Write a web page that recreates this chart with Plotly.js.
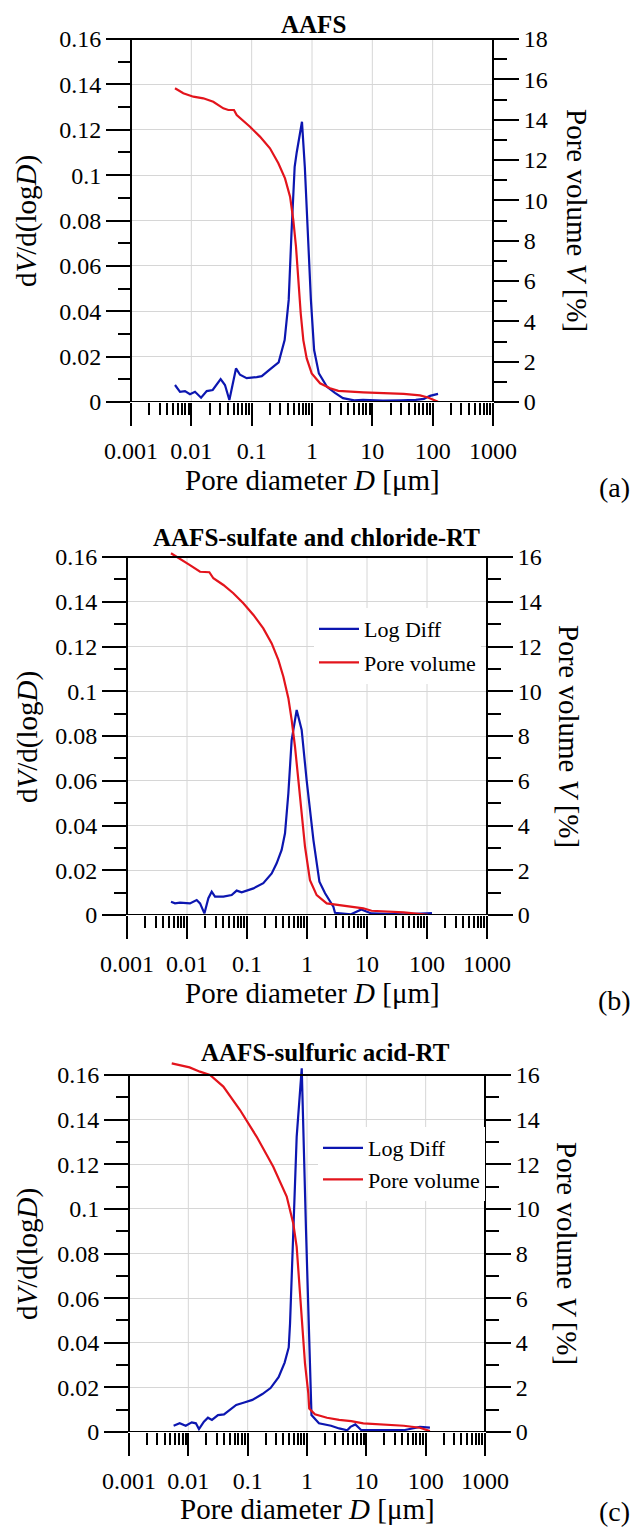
<!DOCTYPE html>
<html><head><meta charset="utf-8">
<script src="https://cdn.plot.ly/plotly-3.0.1.min.js"></script>
<style>html,body{margin:0;padding:0;background:#fff}#chart{width:633px;height:1529px}</style>
</head><body><div id="chart"></div>
<script>
// ---------- data ----------
const panelTitles = ['AAFS', 'AAFS-sulfate and chloride-RT', 'AAFS-sulfuric acid-RT'];
const panelTags = ['(a)', '(b)', '(c)'];
const seriesNames = ['Log Diff', 'Pore volume'];
const xTickVals = [0.001, 0.01, 0.1, 1, 10, 100, 1000];
const xTickText = ['0.001', '0.01', '0.1', '1', '10', '100', '1000'];
const yLeftTickVals = [0, 0.02, 0.04, 0.06, 0.08, 0.1, 0.12, 0.14, 0.16];
const yLeftTickText = ['0', '0.02', '0.04', '0.06', '0.08', '0.1', '0.12', '0.14', '0.16'];
const yRightMax = [18, 16, 16];

// (a) AAFS
const aLogDiffD = [0.00536,0.00649,0.00785,0.0095,0.0115,0.0145,0.018,0.0226,0.0306,0.0361,0.0427,0.055,0.0641,0.0826,0.121,0.147,0.201,0.244,0.280,0.352,0.411,0.457,0.516,0.558,0.682,0.760,0.845,0.959,1.084,1.30,1.77,2.40,3.26,5.0,7.0,15,30,52.6,71.6,90.4,122.7];
const aLogDiff  = [0.0075,0.0045,0.0048,0.0034,0.0045,0.0019,0.0048,0.0053,0.0101,0.0075,0.0009,0.0148,0.0120,0.0105,0.0110,0.0114,0.0144,0.0163,0.0175,0.0273,0.045,0.0744,0.1037,0.110,0.1235,0.1037,0.0744,0.045,0.0229,0.0126,0.0067,0.004,0.0017,0.0007,0.0009,0.0006,0.0007,0.0009,0.0014,0.0027,0.0036];
const aPoreD = [0.00536,0.00736,0.0108,0.0158,0.0231,0.0339,0.041,0.0509,0.0565,0.0938,0.137,0.201,0.277,0.357,0.433,0.490,0.543,0.593,0.650,0.718,0.817,0.989,1.36,1.99,2.73,7.08,33.1,61.5,83.8,122.7];
const aPore  = [15.56,15.31,15.14,15.06,14.89,14.56,14.48,14.48,14.23,13.65,13.16,12.58,11.84,11.09,10.18,9.02,7.70,6.05,4.40,3.07,2.16,1.42,0.93,0.68,0.55,0.48,0.40,0.33,0.22,0.01];

// (b) AAFS-sulfate and chloride-RT
const bLogDiffD = [0.00541,0.00631,0.00764,0.0112,0.0145,0.0165,0.0195,0.0227,0.0258,0.0293,0.0404,0.0555,0.0673,0.0815,0.128,0.187,0.258,0.312,0.378,0.430,0.489,0.555,0.673,0.815,0.986,1.28,1.61,2.0,2.75,2.93,5.41,6.90,8.04,11.8,40.9,121];
const bLogDiff  = [0.0059,0.0052,0.0055,0.0052,0.0067,0.0052,0.0007,0.0075,0.0104,0.0082,0.0082,0.0089,0.0109,0.0101,0.0119,0.0142,0.0186,0.0231,0.0291,0.0365,0.0544,0.0782,0.0916,0.0827,0.0603,0.0335,0.0149,0.0097,0.0037,0.001,0.0003,0.0015,0.0025,0.0007,0.0003,0.0008];
const bPoreD = [0.00541,0.00764,0.0112,0.0165,0.02,0.0236,0.0275,0.0404,0.0592,0.0869,0.128,0.187,0.258,0.333,0.404,0.489,0.555,0.631,0.718,0.815,0.927,1.12,1.45,2.13,3.33,5.46,8.69,11.9,40.9,104,121];
const bPore  = [16.17,15.9,15.64,15.34,15.34,15.32,15.05,14.75,14.38,13.93,13.41,12.81,12.14,11.40,10.65,9.69,8.72,7.52,6.03,4.39,3.05,1.56,0.89,0.52,0.45,0.34,0.30,0.19,0.12,0.01,0.0];

// (c) AAFS-sulfuric acid-RT
const cLogDiffD = [0.00565,0.00715,0.00904,0.0114,0.0134,0.0151,0.0183,0.0214,0.025,0.0316,0.0399,0.0506,0.0641,0.0875,0.120,0.177,0.243,0.332,0.42,0.492,0.518,0.67,0.815,0.962,1.125,1.19,1.59,2.54,3.48,4.76,5.40,6.52,8.24,42.7,80,118];
const cLogDiff  = [0.0028,0.0039,0.0028,0.0043,0.0039,0.0013,0.0046,0.0064,0.0054,0.0076,0.0079,0.0099,0.0121,0.0132,0.0144,0.017,0.0197,0.0246,0.0311,0.0379,0.0487,0.1323,0.163,0.0905,0.0308,0.0076,0.0039,0.0028,0.0016,0.0008,0.0023,0.0034,0.0008,0.0008,0.0023,0.002];
const cPoreD = [0.00525,0.0105,0.0157,0.0232,0.0389,0.0743,0.142,0.270,0.455,0.587,0.670,0.762,0.925,1.052,1.09,1.36,2.17,3.48,5.56,8.89,22.9,42.7,80,118];
const cPore  = [16.52,16.34,16.15,16.0,15.48,14.43,13.23,11.89,10.55,9.35,8.30,6.06,3.08,1.73,1.05,0.79,0.64,0.54,0.49,0.39,0.34,0.28,0.19,0.04];

// ---------- layout ----------
const W = 633, H = 1529;
const FONT = 'Liberation Serif, Times New Roman, Times, serif';
const BLUE = '#0c16b0', RED = '#e3141c', GRID = '#d6d6d6';
const EXT = 15; // px of headroom above the frame so overshooting curves are visible

const panels = [
  {ld:[aLogDiffD,aLogDiff], pv:[aPoreD,aPore], box:{l:131,r:493,t:39,b:402},
   title:[313,25], xt:[312,480], ylt:[27,221], yrt:[577,220], tag:[614,488], legend:null, legName:null},
  {ld:[bLogDiffD,bLogDiff], pv:[bPoreD,bPore], box:{l:127,r:487,t:557,b:915},
   title:[316,538], xt:[312,993], ylt:[27,737], yrt:[569,736], tag:[614,1000], legend:[314,608], legName:'legend2'},
  {ld:[cLogDiffD,cLogDiff], pv:[cPoreD,cPore], box:{l:129,r:485,t:1075,b:1432},
   title:[325,1052], xt:[307,1509], ylt:[27,1254], yrt:[567,1253], tag:[614,1511], legend:[318,1127], legName:'legend3'}
];

const minorX = [];
for (let i = 0; i < xTickVals.length - 1; i++) for (let k = 2; k <= 9; k++) minorX.push(xTickVals[i] * k);

const px = v => v / W, py = v => 1 - v / H;
const tickFont = {family: FONT, size: 24, color: '#000'};
const layout = {
  width: W, height: H, margin: {l:0, r:0, t:0, b:0},
  paper_bgcolor: '#fff', plot_bgcolor: '#fff',
  font: {family: FONT, color: '#000'},
  showlegend: true, shapes: [], annotations: []
};
const traces = [];
const leftTop = yLeftTickVals[yLeftTickVals.length - 1];

panels.forEach((p, i) => {
  const n = i + 1;
  const xr = i === 0 ? 'x' : 'x' + n;
  const yl = 'y' + (i === 0 ? '' : (2 * i + 1));
  const yr = 'y' + (2 * i + 2);
  const xKey = i === 0 ? 'xaxis' : 'xaxis' + n;
  const ylKey = 'yaxis' + (i === 0 ? '' : (2 * i + 1));
  const yrKey = 'yaxis' + (2 * i + 2);
  const b = p.box;
  const ext = EXT / (b.b - b.t);
  const xDom = [px(b.l), px(b.r)];
  const yDom = [py(b.b), py(b.t - EXT)];

  layout[xKey] = {
    type: 'log', range: [-3, 3], domain: xDom, anchor: yl,
    tickmode: 'array', tickvals: xTickVals, ticktext: xTickText,
    ticks: 'outside', ticklen: 23, tickwidth: 2, tickcolor: '#000', ticklabelstandoff: 4,
    showline: false, showgrid: false, zeroline: false, automargin: false,
    tickfont: tickFont, fixedrange: true,
    minor: {tickmode: 'array', tickvals: minorX, ticks: 'outside', ticklen: 12, tickwidth: 2, tickcolor: '#000', showgrid: false}
  };
  layout[ylKey] = {
    domain: yDom, anchor: xr, range: [0, leftTop * (1 + ext)],
    tickmode: 'array', tickvals: yLeftTickVals, ticktext: yLeftTickText,
    ticks: 'outside', ticklen: 24, tickwidth: 2, tickcolor: '#000',
    showline: false, showgrid: true, gridcolor: GRID, gridwidth: 1, zeroline: false,
    automargin: false, tickfont: tickFont, fixedrange: true,
    minor: {tickmode: 'linear', tick0: 0, dtick: 0.01, ticks: 'outside', ticklen: 12, tickwidth: 2, tickcolor: '#000', showgrid: false}
  };
  layout[yrKey] = {
    overlaying: yl, side: 'right', anchor: xr, range: [0, yRightMax[i] * (1 + ext)],
    tickmode: 'linear', tick0: 0, dtick: 2,
    ticks: 'outside', ticklen: 25, tickwidth: 2, tickcolor: '#000',
    showline: false, showgrid: false, zeroline: false, automargin: false,
    tickfont: tickFont, fixedrange: true,
    minor: {tickmode: 'linear', tick0: 0, dtick: 1, ticks: 'outside', ticklen: 13, tickwidth: 2, tickcolor: '#000', showgrid: false}
  };

  // vertical grid lines at inner decades
  xTickVals.slice(1, -1).forEach(v => layout.shapes.push({
    type: 'line', xref: xr, yref: yl, x0: v, x1: v, y0: 0, y1: leftTop,
    line: {color: GRID, width: 1}, layer: 'below'
  }));
  // frame
  layout.shapes.push({
    type: 'rect', xref: xr + ' domain', yref: yl, x0: 0, x1: 1, y0: 0, y1: leftTop,
    line: {color: '#000', width: 2}, fillcolor: 'rgba(0,0,0,0)', layer: 'above'
  });

  const legName = p.legName;
  traces.push({
    x: p.ld[0], y: p.ld[1], xaxis: xr, yaxis: yl, type: 'scatter', mode: 'lines',
    name: seriesNames[0], line: {color: BLUE, width: 2.2}, showlegend: !!legName,
    legend: legName || 'legend', legendgroup: 'g' + i + 'a', hoverinfo: 'skip'
  });
  traces.push({
    x: p.pv[0], y: p.pv[1], xaxis: xr, yaxis: yr, type: 'scatter', mode: 'lines',
    name: seriesNames[1], line: {color: RED, width: 2.2}, showlegend: !!legName,
    legend: legName || 'legend', legendgroup: 'g' + i + 'b', hoverinfo: 'skip'
  });

  if (legName) {
    layout[legName] = {
      x: px(p.legend[0]), y: py(p.legend[1]), xanchor: 'left', yanchor: 'top',
      bgcolor: '#fff', borderwidth: 0, font: {family: FONT, size: 22, color: '#000'},
      traceorder: 'grouped', tracegroupgap: i === 1 ? 2 : 0, itemwidth: 40
    };
  }

  const ann = (pos, text, size, angle) => layout.annotations.push({
    xref: 'paper', yref: 'paper', x: px(pos[0]), y: py(pos[1]), xanchor: 'center', yanchor: 'middle',
    text: text, showarrow: false, textangle: angle, font: {family: FONT, size: size, color: '#000'}
  });
  ann(p.title, '<b>' + panelTitles[i] + '</b>', 25, 0);
  ann(p.xt, 'Pore diameter <i>D</i> [μm]', 29, 0);
  ann(p.ylt, 'd<i>V</i>/d(log<i>D</i>)', 29, -90);
  ann(p.yrt, 'Pore volume <i>V</i> [%]', 29, 90);
  ann(p.tag, panelTags[i], 28, 0);
});

Plotly.newPlot('chart', traces, layout, {staticPlot: true, displayModeBar: false});
</script>
</body></html>
